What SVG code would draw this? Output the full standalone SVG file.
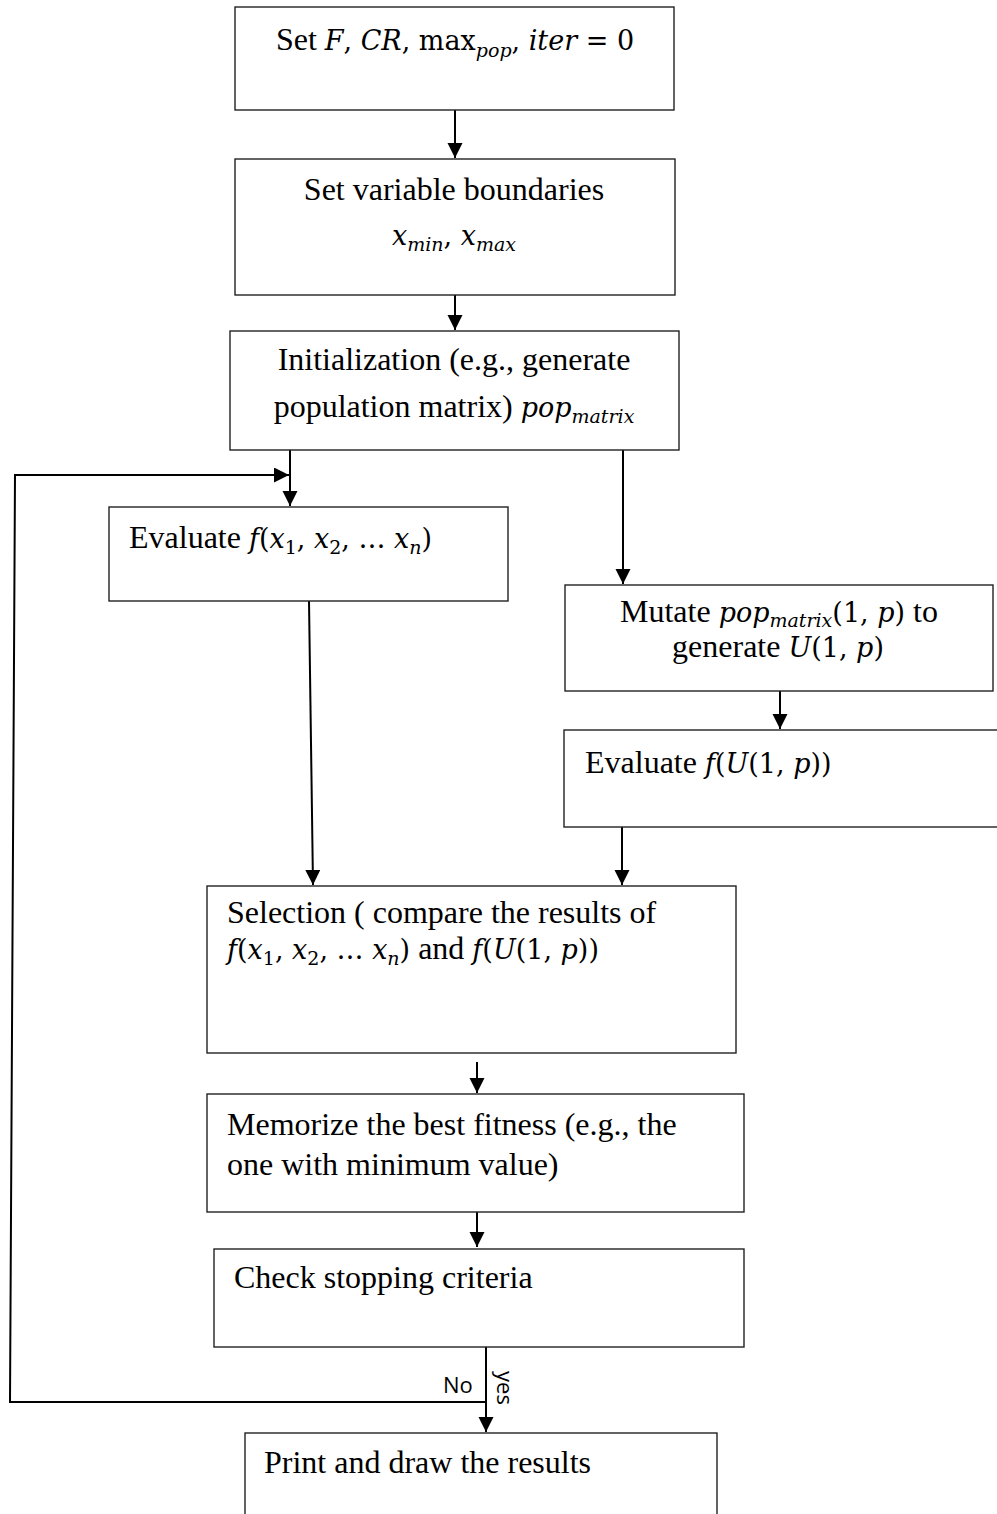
<svg xmlns="http://www.w3.org/2000/svg" width="997" height="1514" viewBox="0 0 997 1514">
<style>
.box{fill:#fff;stroke:#222;stroke-width:1.4}
.t{font-family:"Liberation Serif","Times New Roman",serif;font-size:32px;fill:#000}
.m{font-family:"DejaVu Serif","Liberation Serif",serif;font-style:italic;font-size:27px}
.r{font-family:"DejaVu Serif","Liberation Serif",serif;font-style:normal;font-size:27px}
.s{font-size:19px}
.c{fill:none;stroke:#000;stroke-width:2}
.lbl{font-family:"Open Sans","DejaVu Sans",sans-serif;font-size:22px;fill:#000}
</style>
<defs>
<marker id="ah" markerUnits="userSpaceOnUse" markerWidth="16" markerHeight="16" refX="15" refY="7.5" orient="auto">
<path d="M0,0 L15,7.5 L0,15 Z" fill="#000"/>
</marker>
</defs>
<rect x="0" y="0" width="997" height="1514" fill="#fff"/>
<g id="connectors">
<path class="c" d="M455,110 V158" marker-end="url(#ah)"/>
<path class="c" d="M455,295 V330" marker-end="url(#ah)"/>
<path class="c" d="M290,450 V506" marker-end="url(#ah)"/>
<path class="c" d="M623,450 V584" marker-end="url(#ah)"/>
<path class="c" d="M309,601 L313,885" marker-end="url(#ah)"/>
<path class="c" d="M780,691 V729" marker-end="url(#ah)"/>
<path class="c" d="M622,827 V885" marker-end="url(#ah)"/>
<path class="c" d="M477,1062 V1093" marker-end="url(#ah)"/>
<path class="c" d="M477,1212 V1247" marker-end="url(#ah)"/>
<path class="c" d="M486,1347 V1432" marker-end="url(#ah)"/>
<path class="c" d="M486,1402 H10 L15,475 H289" marker-end="url(#ah)"/>
<text class="lbl" x="443" y="1393">No</text>
<text class="lbl" transform="translate(497,1371) rotate(90)">yes</text>
</g>
<g id="n1">
<rect class="box" x="235" y="7" width="439" height="103"/>
<text class="t" x="455" y="50" text-anchor="middle">Set  <tspan class="m">F</tspan><tspan class="r">, </tspan><tspan class="m">CR</tspan><tspan class="r">, max</tspan><tspan class="m s" dy="7">pop</tspan><tspan class="r" dy="-7">, </tspan><tspan class="m">iter</tspan><tspan class="r"> = 0</tspan></text>
</g>
<g id="n2">
<rect class="box" x="235" y="159" width="440" height="136"/>
<text class="t" x="454" y="200" text-anchor="middle">Set variable boundaries</text>
<text class="t" x="454" y="245" text-anchor="middle"><tspan class="m">x</tspan><tspan class="m s" dy="6">min</tspan><tspan class="r" dy="-6">, </tspan><tspan class="m">x</tspan><tspan class="m s" dy="6">max</tspan></text>
</g>
<g id="n3">
<rect class="box" x="230" y="331" width="449" height="119"/>
<text class="t" x="454" y="370" text-anchor="middle">Initialization (e.g., generate</text>
<text class="t" x="454" y="417" text-anchor="middle">population matrix) <tspan class="m">pop</tspan><tspan class="m s" dy="6">matrix</tspan></text>
</g>
<g id="n4">
<rect class="box" x="109" y="507" width="399" height="94"/>
<text class="t" x="129" y="548">Evaluate <tspan class="m">f</tspan><tspan class="r">(</tspan><tspan class="m">x</tspan><tspan class="r s" dy="6">1</tspan><tspan class="r" dy="-6">, </tspan><tspan class="m">x</tspan><tspan class="r s" dy="6">2</tspan><tspan class="r" dy="-6">, … </tspan><tspan class="m">x</tspan><tspan class="m s" dy="6">n</tspan><tspan class="r" dy="-6">)</tspan></text>
</g>
<g id="n5">
<rect class="box" x="565" y="585" width="428" height="106"/>
<text class="t" x="779" y="622" text-anchor="middle">Mutate <tspan class="m">pop</tspan><tspan class="m s" dy="5">matrix</tspan><tspan class="r" dy="-5">(1, </tspan><tspan class="m">p</tspan><tspan class="r">)</tspan> to</text>
<text class="t" x="778" y="657" text-anchor="middle">generate <tspan class="m">U</tspan><tspan class="r">(1, </tspan><tspan class="m">p</tspan><tspan class="r">)</tspan></text>
</g>
<g id="n6">
<rect class="box" x="564" y="730" width="450" height="97"/>
<text class="t" x="585" y="773">Evaluate <tspan class="m">f</tspan><tspan class="r">(</tspan><tspan class="m">U</tspan><tspan class="r">(1, </tspan><tspan class="m">p</tspan><tspan class="r">))</tspan></text>
</g>
<g id="n7">
<rect class="box" x="207" y="886" width="529" height="167"/>
<text class="t" x="227" y="923">Selection ( compare the results of</text>
<text class="t" x="227" y="959"><tspan class="m">f</tspan><tspan class="r">(</tspan><tspan class="m">x</tspan><tspan class="r s" dy="6">1</tspan><tspan class="r" dy="-6">, </tspan><tspan class="m">x</tspan><tspan class="r s" dy="6">2</tspan><tspan class="r" dy="-6">, … </tspan><tspan class="m">x</tspan><tspan class="m s" dy="6">n</tspan><tspan class="r" dy="-6">)</tspan> and  <tspan class="m">f</tspan><tspan class="r">(</tspan><tspan class="m">U</tspan><tspan class="r">(1, </tspan><tspan class="m">p</tspan><tspan class="r">))</tspan></text>
</g>
<g id="n8">
<rect class="box" x="207" y="1094" width="537" height="118"/>
<text class="t" x="227" y="1135">Memorize the best fitness (e.g., the</text>
<text class="t" x="227" y="1175">one with minimum value)</text>
</g>
<g id="n9">
<rect class="box" x="214" y="1249" width="530" height="98"/>
<text class="t" x="234" y="1288">Check stopping criteria</text>
</g>
<g id="n10">
<rect class="box" x="245" y="1433" width="472" height="100"/>
<text class="t" x="264" y="1473">Print and draw the results</text>
</g>
</svg>
